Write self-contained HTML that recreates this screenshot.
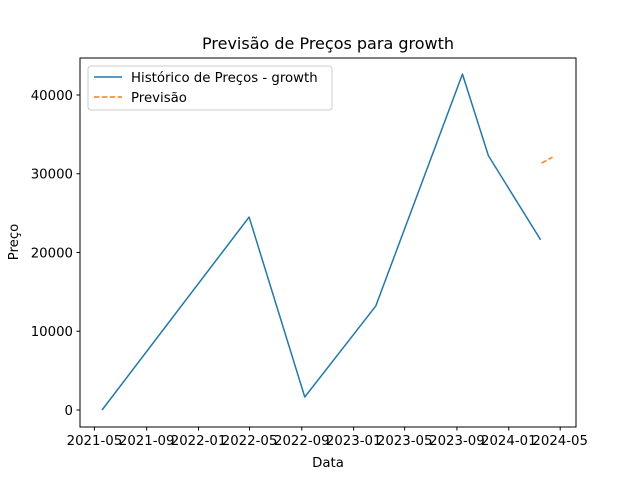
<!DOCTYPE html>
<html><head><meta charset="utf-8"><style>
body{margin:0;background:#fff}
svg text{font-family:"DejaVu Sans","Liberation Sans",sans-serif;fill:#000}
</style></head><body>
<svg id="c" width="640" height="480" xmlns="http://www.w3.org/2000/svg">
<rect width="640" height="480" fill="#fff"/>
<text x="328" y="49" font-size="16" text-anchor="middle">Previsão de Preços para growth</text>
<text x="328" y="467" font-size="13.3" text-anchor="middle">Data</text>
<text transform="translate(18,242) rotate(-90)" font-size="13.3" text-anchor="middle">Preço</text>
<g id="ticks"></g>
<g id="marks"></g>
<rect x="80" y="58" width="496" height="369" fill="none" stroke="#000" stroke-width="1"/>
<g>
<rect x="88" y="66" width="244" height="44" rx="3" fill="#fff" fill-opacity="0.8" stroke="#ccc"/>
<line x1="94" y1="77" x2="122" y2="77" stroke="#1f77b4" stroke-width="1.5"/>
<text x="131" y="82" font-size="13.3">Histórico de Preços - growth</text>
<line x1="94" y1="97" x2="122" y2="97" stroke="#ff7f0e" stroke-width="1.5" stroke-dasharray="5.5,2.4"/>
<text x="131" y="102" font-size="13.3">Previsão</text>
</g>
</svg>
<script>
const histDates=["2021-05-19","2022-04-30","2022-09-08","2023-02-22","2023-09-14","2023-11-14","2024-03-16"];
const histValues=[0,24500,1650,13200,42650,32300,21600];
const fcDates=["2024-03-18","2024-04-13"];
const fcValues=[31350,32100];
const xTickLabels=["2021-05","2021-09","2022-01","2022-05","2022-09","2023-01","2023-05","2023-09","2024-01","2024-05"];
const yTickValues=[0,10000,20000,30000,40000];

const NS="http://www.w3.org/2000/svg";
const t0=Date.UTC(2021,4,1), t1=Date.UTC(2024,4,1);
function day(s){const p=s.split("-");return Date.UTC(+p[0],+p[1]-1,+(p[2]||1));}
function X(s){return 94.4+(day(s)-t0)/(t1-t0)*(560.2-94.4);}
function Y(v){return 410-v*(315/40000);}
const ticks=document.getElementById("ticks"), marks=document.getElementById("marks");
function mk(tag,a,parent){const e=document.createElementNS(NS,tag);for(const k in a)e.setAttribute(k,a[k]);parent.appendChild(e);return e;}
xTickLabels.forEach(l=>{
  const x=X(l);
  const ln=mk("line",{x1:x,x2:x,y1:427,y2:430.5,stroke:"#000"},ticks);
  
  
  const t=mk("text",{x:x,y:445,"font-size":"13.3","text-anchor":"middle"},ticks);
  t.textContent=l;
  
  
});
yTickValues.forEach(v=>{
  const y=Y(v);
  const ln=mk("line",{x1:76.5,x2:80,y1:y,y2:y,stroke:"#000"},ticks);
  
  
  const t=mk("text",{x:73,y:y+4.8,"font-size":"13.3","text-anchor":"end"},ticks);
  t.textContent=String(v);
  
  
});
const hp=mk("polyline",{points:histDates.map((d,i)=>X(d)+","+Y(histValues[i])).join(" "),fill:"none",stroke:"#1f77b4","stroke-width":"1.5","stroke-linejoin":"round"},marks);


const fp=mk("polyline",{points:fcDates.map((d,i)=>X(d)+","+Y(fcValues[i])).join(" "),fill:"none",stroke:"#ff7f0e","stroke-width":"1.5","stroke-dasharray":"5.5,2.4"},marks);


</script>
</body></html>
